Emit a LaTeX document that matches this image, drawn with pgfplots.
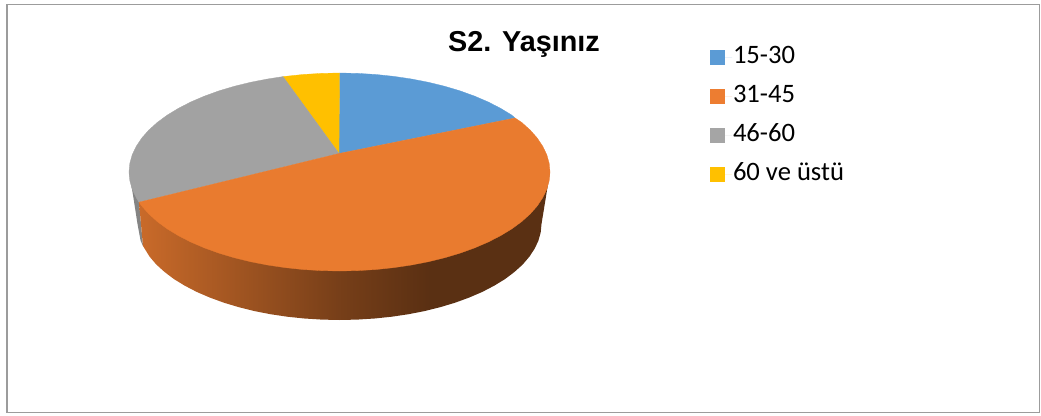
\documentclass[border=0pt]{standalone}
\usepackage{fontspec}
\setmainfont{Carlito}
\newfontfamily\titlefont{Liberation Sans}
\usepackage{pgfplots}
\pgfplotsset{compat=1.18}
\definecolor{cblue}{HTML}{5B9BD5}
\definecolor{corange}{HTML}{ED7D31}
\definecolor{corangetop}{HTML}{E97B2F}
\definecolor{cgray}{HTML}{A5A5A5}
\definecolor{cgraytop}{HTML}{A2A2A2}
\definecolor{cyellow}{HTML}{FFC000}
\definecolor{cframe}{HTML}{9C9C9C}
\pgfdeclarehorizontalshading{sidewall}{100bp}{
  color(0bp)=(corange!85!black);
  color(25bp)=(corange!85!black);
  color(49.5bp)=(corange!50!black);
  color(60.4bp)=(corange!38!black);
  color(100bp)=(corange!38!black)}
\begin{document}
\begin{tikzpicture}
\begin{axis}[
  scale only axis, width=1041pt, height=415pt,
  xmin=0, xmax=1041, ymin=0, ymax=415, y dir=reverse,
  axis lines=none, clip=false,
  legend cell align=left,
  legend image code/.code={\fill[#1] (0pt,-7.5pt) rectangle (15pt,7.5pt); \path (0pt,0pt) -- (22pt,0pt);},
  legend style={at={(axis cs:710,43.5)}, anchor=north west, draw=none, fill=none,
    font=\fontsize{26.6}{30}\selectfont, row sep=11pt, inner sep=0pt, outer sep=0pt,
    nodes={inner sep=1pt, anchor=west, text height=19pt, text depth=7pt}},
]
\addlegendimage{fill=cblue,draw=none}
\addlegendentry{15-30}
\addlegendimage{fill=corange,draw=none}
\addlegendentry{31-45}
\addlegendimage{fill=cgray,draw=none}
\addlegendentry{46-60}
\addlegendimage{fill=cyellow,draw=none}
\addlegendentry{60 ve üstü}

% page extent
\addplot[forget plot, draw=none, mark=none] coordinates {(0,0)(1041,0)(1041,415)(0,415)} -- cycle;
% frame
\addplot[forget plot, draw=cframe, line width=1.8pt, mark=none] coordinates {(7,4.5)(1039.5,4.5)(1039.5,412.5)(7,412.5)} -- cycle;

% side walls
\addplot[forget plot, draw=none, fill=cgray!80!black, mark=none] coordinates {
(129,172)(139,202.2)(143,246)(140.6,240.7)(137.5,224)(133,195)} -- cycle;
\addplot[forget plot, draw=none, shade, shading=sidewall, mark=none] coordinates {
(550,172)(541.5,224)(540.7,232.4)(538.4,240.7)(534.6,248.8)(529.3,256.8)(522.6,264.6)(514.4,272)(505,279.1)(494.2,285.7)(482.3,291.9)(469.3,297.5)(455.4,302.6)(440.5,307.1)(424.9,311)(408.6,314.2)(391.8,316.7)(374.6,318.5)(357.1,319.6)(339.5,320)(321.9,319.6)(304.4,318.5)(287.2,316.7)(270.4,314.2)(254.1,311)(238.5,307.1)(223.6,302.6)(209.7,297.5)(196.7,291.9)(184.8,285.7)(174,279.1)(164.6,272)(156.4,264.6)(149.7,256.8)(143,246)(139,202.2)} -- cycle;

% top face: 15-30
\addplot[forget plot, draw=cblue, line width=0.3pt, fill=cblue, mark=none] coordinates {
(339,153.5)(339.5,73)(357.9,73.4)(376,74.5)(394,76.4)(411.5,79)(428.5,82.3)(444.8,86.3)(460.2,90.9)(474.8,96.2)(488.3,102)(500.7,108.4)(511.9,115.2)(515,118)} -- cycle;
% 60 ve ustu
\addplot[forget plot, draw=cyellow, line width=0.3pt, fill=cyellow, mark=none] coordinates {
(339,153.5)(283,76.6)(303,74.5)(321.1,73.4)(339.5,73)} -- cycle;
% 46-60
\addplot[forget plot, draw=cgraytop, line width=0.3pt, fill=cgraytop, mark=none] coordinates {
(339,153.5)(139,202.2)(136.2,197.6)(132.2,189.2)(129.8,180.6)(129,172)(129.8,163.4)(132.2,154.8)(136.2,146.4)(141.7,138.1)(148.7,130.2)(157.2,122.5)(167.1,115.2)(178.3,108.4)(190.7,102)(204.2,96.2)(218.8,90.9)(234.2,86.3)(250.5,82.3)(267.5,79)(283,76.6)} -- cycle;
% 31-45
\addplot[forget plot, draw=corangetop, line width=0.3pt, fill=corangetop, mark=none] coordinates {
(339,153.5)(515,118)(521.8,122.5)(530.3,130.2)(537.3,138.1)(542.8,146.4)(546.8,154.8)(549.2,163.4)(550,172)(549.2,180.6)(546.8,189.2)(542.8,197.6)(537.3,205.9)(530.3,213.8)(521.8,221.5)(511.9,228.8)(500.7,235.6)(488.3,242)(474.8,247.8)(460.2,253.1)(444.8,257.7)(428.5,261.7)(411.5,265)(394,267.6)(376,269.5)(357.9,270.6)(339.5,271)(321.1,270.6)(303,269.5)(285,267.6)(267.5,265)(250.5,261.7)(234.2,257.7)(218.8,253.1)(204.2,247.8)(190.7,242)(178.3,235.6)(167.1,228.8)(157.2,221.5)(148.7,213.8)(141.7,205.9)(139,202.2)} -- cycle;

\node[font=\titlefont\bfseries\fontsize{28.8}{32}\selectfont, anchor=center, inner sep=0pt] at (axis cs:524,44) {S2. Yaşınız};
\end{axis}
\end{tikzpicture}
\end{document}
